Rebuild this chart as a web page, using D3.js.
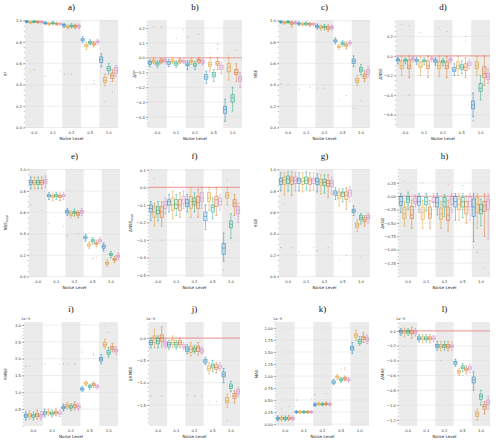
<!DOCTYPE html>
<html>
<head>
<meta charset="utf-8">
<script src="https://cdn.jsdelivr.net/npm/d3@7"></script>
<style>
  body { margin: 0; background: #fff; }
  svg { display: block; }
</style>
</head>
<body>
<div id="chart"></div>
<script>
const noiseLevels = ["0.0", "0.1", "0.2", "0.5", "1.0"];
const seriesColors = ["#0173b2", "#de8f05", "#029e73", "#d55e00", "#cc78bc"];

// box rows: [whiskerLow, q1, median, q3, whiskerHigh], noise level by noise level, 5 series each
// outliers: [noiseLevelIndex, seriesIndex, value]
const r2Boxes = [
    [0.98, 0.985, 0.99, 0.995, 1.0], [0.97, 0.978, 0.983, 0.988, 0.995], [0.98, 0.985, 0.99, 0.994, 1.0], [0.975, 0.98, 0.985, 0.99, 0.997], [0.975, 0.98, 0.985, 0.99, 0.997],
    [0.96, 0.97, 0.975, 0.98, 0.99], [0.955, 0.965, 0.97, 0.975, 0.985], [0.96, 0.97, 0.975, 0.98, 0.99], [0.955, 0.965, 0.97, 0.975, 0.985], [0.955, 0.965, 0.97, 0.975, 0.985],
    [0.935, 0.948, 0.955, 0.962, 0.975], [0.92, 0.933, 0.94, 0.947, 0.96], [0.93, 0.943, 0.95, 0.957, 0.97], [0.925, 0.938, 0.945, 0.952, 0.965], [0.925, 0.938, 0.945, 0.952, 0.965],
    [0.79, 0.81, 0.82, 0.83, 0.85], [0.73, 0.755, 0.765, 0.775, 0.795], [0.77, 0.787, 0.795, 0.805, 0.82], [0.755, 0.772, 0.78, 0.79, 0.805], [0.775, 0.792, 0.8, 0.81, 0.825],
    [0.57, 0.61, 0.635, 0.66, 0.69], [0.39, 0.42, 0.44, 0.47, 0.5], [0.5, 0.53, 0.55, 0.57, 0.6], [0.43, 0.46, 0.485, 0.51, 0.54], [0.48, 0.51, 0.535, 0.56, 0.58]
];
const r2Outliers = [[0, 1, 0.53], [0, 2, 0.54], [1, 0, 0.48], [1, 4, 0.53], [2, 0, 0.5], [2, 1, 0.5], [2, 2, 0.5], [3, 1, 0.37], [3, 3, 0.41], [3, 3, 0.44], [4, 1, 0.24], [4, 3, 0.33]];

const dR2Boxes = [
    [-0.06, -0.045, -0.035, -0.025, -0.015], [-0.04, -0.03, -0.022, -0.015, -0.005], [-0.065, -0.05, -0.04, -0.03, -0.02], [-0.04, -0.03, -0.022, -0.015, -0.005], [-0.035, -0.027, -0.02, -0.013, -0.005],
    [-0.06, -0.045, -0.035, -0.025, -0.012], [-0.04, -0.03, -0.022, -0.015, -0.005], [-0.065, -0.05, -0.04, -0.03, -0.018], [-0.04, -0.03, -0.022, -0.015, -0.005], [-0.04, -0.032, -0.025, -0.018, -0.008],
    [-0.08, -0.055, -0.045, -0.035, -0.02], [-0.045, -0.033, -0.025, -0.018, -0.005], [-0.08, -0.06, -0.05, -0.04, -0.025], [-0.04, -0.03, -0.02, -0.013, 0.0], [-0.05, -0.04, -0.03, -0.02, -0.008],
    [-0.175, -0.145, -0.13, -0.115, -0.09], [-0.09, -0.06, -0.045, -0.03, 0.0], [-0.16, -0.13, -0.115, -0.1, -0.08], [-0.08, -0.05, -0.04, -0.025, 0.0], [-0.11, -0.08, -0.065, -0.05, -0.03],
    [-0.43, -0.375, -0.35, -0.33, -0.28], [-0.15, -0.095, -0.065, -0.04, 0.0], [-0.36, -0.3, -0.27, -0.25, -0.2], [-0.16, -0.115, -0.1, -0.08, -0.04], [-0.2, -0.16, -0.145, -0.125, -0.1]
];
const dR2Outliers = [[0, 1, 0.21], [0, 3, 0.21], [1, 2, 0.13], [1, 4, 0.19], [2, 0, 0.14], [2, 3, 0.16], [3, 1, 0.03], [3, 3, 0.09], [3, 3, 0.06], [4, 1, 0.02], [4, 3, 0.05]];

const nseBoxes = [
    [0.975, 0.982, 0.987, 0.992, 0.998], [0.965, 0.975, 0.98, 0.985, 0.993], [0.975, 0.982, 0.987, 0.992, 0.998], [0.94, 0.965, 0.975, 0.985, 0.995], [0.965, 0.975, 0.98, 0.986, 0.994],
    [0.955, 0.965, 0.972, 0.978, 0.988], [0.95, 0.96, 0.966, 0.972, 0.982], [0.955, 0.965, 0.972, 0.978, 0.988], [0.945, 0.958, 0.965, 0.972, 0.982], [0.95, 0.96, 0.966, 0.972, 0.982],
    [0.92, 0.937, 0.945, 0.953, 0.968], [0.91, 0.927, 0.935, 0.943, 0.958], [0.915, 0.932, 0.94, 0.948, 0.962], [0.895, 0.918, 0.93, 0.942, 0.96], [0.91, 0.927, 0.935, 0.943, 0.958],
    [0.78, 0.8, 0.81, 0.82, 0.84], [0.73, 0.747, 0.755, 0.763, 0.78], [0.76, 0.777, 0.785, 0.793, 0.81], [0.735, 0.76, 0.77, 0.78, 0.8], [0.765, 0.782, 0.79, 0.798, 0.815],
    [0.57, 0.6, 0.62, 0.64, 0.67], [0.39, 0.42, 0.44, 0.46, 0.49], [0.49, 0.52, 0.54, 0.56, 0.59], [0.43, 0.46, 0.48, 0.5, 0.53], [0.47, 0.5, 0.52, 0.54, 0.57]
];
const nseOutliers = [[0, 0, 0.41], [0, 2, 0.4], [1, 0, 0.36], [1, 3, 0.38], [2, 0, 0.37], [2, 2, 0.37], [3, 1, 0.26], [3, 3, 0.3], [4, 0, 0.18], [4, 2, 0.25]];

const dNseBoxes = [
    [-0.08, -0.05, -0.04, -0.03, -0.015], [-0.2, -0.13, -0.1, -0.05, 0.0], [-0.08, -0.055, -0.045, -0.035, -0.02], [-0.22, -0.13, -0.1, -0.04, 0.0], [-0.06, -0.04, -0.03, -0.02, -0.008],
    [-0.085, -0.055, -0.045, -0.035, -0.015], [-0.2, -0.12, -0.1, -0.06, -0.01], [-0.09, -0.06, -0.05, -0.04, -0.02], [-0.22, -0.13, -0.1, -0.05, 0.0], [-0.06, -0.04, -0.03, -0.02, -0.008],
    [-0.095, -0.065, -0.05, -0.04, -0.02], [-0.21, -0.13, -0.1, -0.06, 0.0], [-0.1, -0.07, -0.055, -0.045, -0.025], [-0.22, -0.13, -0.1, -0.06, -0.005], [-0.07, -0.05, -0.04, -0.03, -0.01],
    [-0.2, -0.16, -0.14, -0.12, -0.08], [-0.2, -0.13, -0.1, -0.06, 0.0], [-0.18, -0.14, -0.115, -0.09, -0.05], [-0.22, -0.15, -0.115, -0.08, -0.02], [-0.13, -0.1, -0.08, -0.06, -0.03],
    [-0.62, -0.54, -0.5, -0.46, -0.38], [-0.2, -0.13, -0.1, -0.06, 0.0], [-0.45, -0.36, -0.33, -0.28, -0.2], [-0.3, -0.22, -0.18, -0.11, 0.0], [-0.28, -0.24, -0.21, -0.18, -0.13]
];
const dNseOutliers = [[0, 1, 0.32], [0, 3, 0.31], [0, 3, -0.4], [1, 1, 0.24], [2, 1, 0.28], [2, 3, 0.25], [3, 3, 0.2], [3, 3, 0.15], [4, 0, -0.66]];

const nseModBoxes = [
    [0.82, 0.86, 0.88, 0.9, 0.93], [0.82, 0.86, 0.88, 0.9, 0.93], [0.82, 0.86, 0.88, 0.9, 0.93], [0.82, 0.86, 0.88, 0.9, 0.93], [0.83, 0.87, 0.89, 0.91, 0.94],
    [0.72, 0.745, 0.755, 0.765, 0.785], [0.71, 0.74, 0.75, 0.76, 0.78], [0.72, 0.745, 0.755, 0.765, 0.785], [0.71, 0.74, 0.75, 0.76, 0.78], [0.72, 0.745, 0.755, 0.765, 0.785],
    [0.57, 0.593, 0.605, 0.617, 0.635], [0.55, 0.573, 0.585, 0.597, 0.615], [0.565, 0.59, 0.6, 0.61, 0.63], [0.55, 0.573, 0.585, 0.597, 0.615], [0.57, 0.593, 0.605, 0.617, 0.635],
    [0.33, 0.352, 0.365, 0.378, 0.395], [0.265, 0.285, 0.295, 0.305, 0.325], [0.305, 0.325, 0.335, 0.345, 0.365], [0.28, 0.3, 0.31, 0.32, 0.34], [0.305, 0.325, 0.335, 0.345, 0.365],
    [0.24, 0.265, 0.28, 0.295, 0.315], [0.095, 0.115, 0.125, 0.135, 0.155], [0.175, 0.195, 0.205, 0.215, 0.235], [0.13, 0.15, 0.16, 0.17, 0.19], [0.16, 0.18, 0.19, 0.2, 0.22]
];
const nseModOutliers = [[0, 0, 0.67], [0, 3, 0.62], [1, 0, 0.5], [1, 4, 0.47], [2, 0, 0.38], [2, 3, 0.4], [3, 2, 0.17], [3, 3, 0.18]];

const dNseModBoxes = [
    [-0.19, -0.14, -0.12, -0.1, -0.08], [-0.22, -0.17, -0.14, -0.11, -0.09], [-0.19, -0.15, -0.13, -0.11, -0.08], [-0.22, -0.17, -0.14, -0.11, -0.08], [-0.15, -0.12, -0.1, -0.08, -0.06],
    [-0.14, -0.1, -0.08, -0.07, -0.04], [-0.18, -0.13, -0.1, -0.06, -0.02], [-0.16, -0.12, -0.095, -0.07, -0.04], [-0.17, -0.13, -0.1, -0.07, -0.03], [-0.12, -0.09, -0.07, -0.05, -0.02],
    [-0.14, -0.11, -0.09, -0.07, -0.04], [-0.17, -0.12, -0.08, -0.05, 0.0], [-0.14, -0.1, -0.08, -0.06, -0.03], [-0.17, -0.12, -0.085, -0.05, -0.01], [-0.12, -0.08, -0.06, -0.03, 0.0],
    [-0.24, -0.19, -0.165, -0.14, -0.1], [-0.13, -0.08, -0.06, -0.03, 0.0], [-0.18, -0.14, -0.115, -0.1, -0.06], [-0.16, -0.11, -0.07, -0.05, 0.0], [-0.13, -0.1, -0.08, -0.06, -0.04],
    [-0.42, -0.38, -0.345, -0.32, -0.26], [-0.1, -0.06, -0.045, -0.03, 0.0], [-0.29, -0.23, -0.21, -0.19, -0.15], [-0.16, -0.11, -0.09, -0.07, -0.04], [-0.2, -0.15, -0.13, -0.11, -0.09]
];
const dNseModOutliers = [[0, 3, -0.3], [0, 1, 0.05], [1, 1, 0.03], [4, 0, -0.47], [4, 1, 0.04]];

const kgeBoxes = [
    [0.8, 0.86, 0.89, 0.92, 0.97], [0.76, 0.86, 0.9, 0.93, 0.97], [0.8, 0.87, 0.91, 0.94, 0.98], [0.76, 0.86, 0.9, 0.93, 0.98], [0.8, 0.87, 0.9, 0.93, 0.97],
    [0.8, 0.87, 0.9, 0.92, 0.97], [0.79, 0.86, 0.89, 0.92, 0.97], [0.81, 0.87, 0.9, 0.93, 0.98], [0.8, 0.86, 0.9, 0.92, 0.97], [0.81, 0.87, 0.9, 0.92, 0.97],
    [0.79, 0.86, 0.89, 0.92, 0.96], [0.77, 0.85, 0.88, 0.91, 0.95], [0.78, 0.85, 0.88, 0.91, 0.95], [0.74, 0.84, 0.87, 0.9, 0.95], [0.77, 0.84, 0.87, 0.9, 0.93],
    [0.72, 0.76, 0.78, 0.8, 0.83], [0.66, 0.73, 0.76, 0.79, 0.82], [0.7, 0.75, 0.78, 0.79, 0.82], [0.63, 0.72, 0.76, 0.79, 0.83], [0.7, 0.75, 0.78, 0.81, 0.84],
    [0.57, 0.6, 0.615, 0.63, 0.66], [0.42, 0.46, 0.48, 0.5, 0.53], [0.49, 0.53, 0.55, 0.57, 0.59], [0.47, 0.51, 0.53, 0.55, 0.57], [0.5, 0.54, 0.555, 0.57, 0.59]
];
const kgeOutliers = [[0, 0, 0.27], [0, 3, 0.27], [0, 1, 0.68], [1, 0, 0.23], [1, 4, 0.27], [2, 0, 0.24], [2, 3, 0.27], [3, 1, 0.15], [3, 3, 0.2], [4, 2, 0.18]];

const dKgeBoxes = [
    [-0.3, -0.17, -0.1, 0.0, 0.05], [-0.56, -0.42, -0.33, -0.2, -0.1], [-0.25, -0.12, -0.05, 0.0, 0.08], [-0.6, -0.42, -0.35, -0.19, -0.07], [-0.2, -0.13, -0.1, -0.03, 0.02],
    [-0.3, -0.17, -0.1, 0.0, 0.05], [-0.6, -0.43, -0.3, -0.2, -0.08], [-0.28, -0.16, -0.1, -0.02, 0.05], [-0.6, -0.41, -0.33, -0.2, -0.08], [-0.2, -0.12, -0.1, -0.02, 0.05],
    [-0.35, -0.2, -0.12, -0.02, 0.05], [-0.6, -0.43, -0.33, -0.22, -0.1], [-0.38, -0.2, -0.1, -0.02, 0.03], [-0.65, -0.45, -0.35, -0.2, -0.07], [-0.3, -0.15, -0.05, 0.0, 0.05],
    [-0.45, -0.2, -0.1, 0.0, 0.05], [-0.45, -0.25, -0.15, -0.05, 0.05], [-0.4, -0.2, -0.1, -0.02, 0.05], [-0.5, -0.33, -0.2, -0.1, 0.0], [-0.45, -0.2, -0.1, 0.0, 0.05],
    [-0.85, -0.38, -0.2, -0.05, 0.05], [-0.6, -0.3, -0.15, -0.03, 0.05], [-0.55, -0.33, -0.25, -0.15, -0.05], [-0.75, -0.28, -0.18, -0.1, 0.05], [-0.8, -0.25, -0.1, -0.05, 0.05]
];
const dKgeOutliers = [[0, 1, 0.28], [1, 1, 0.25], [2, 3, 0.22], [3, 2, 0.2], [3, 1, -1.0], [4, 1, -1.05], [4, 3, -1.35], [4, 4, -1.45], [4, 0, -0.95]];

// RMSE, MAE and their deltas are in units of 1e-5
const rmseBoxes = [
    [0.18, 0.25, 0.3, 0.35, 0.42], [0.2, 0.27, 0.32, 0.37, 0.45], [0.18, 0.25, 0.3, 0.34, 0.41], [0.2, 0.28, 0.33, 0.38, 0.47], [0.19, 0.26, 0.3, 0.35, 0.43],
    [0.27, 0.33, 0.38, 0.43, 0.5], [0.3, 0.36, 0.4, 0.44, 0.5], [0.27, 0.33, 0.37, 0.41, 0.47], [0.3, 0.36, 0.4, 0.44, 0.51], [0.28, 0.34, 0.38, 0.42, 0.48],
    [0.45, 0.51, 0.55, 0.59, 0.65], [0.5, 0.56, 0.6, 0.64, 0.7], [0.46, 0.52, 0.56, 0.6, 0.66], [0.48, 0.55, 0.6, 0.65, 0.72], [0.47, 0.53, 0.57, 0.61, 0.67],
    [1.03, 1.07, 1.1, 1.13, 1.18], [1.2, 1.24, 1.27, 1.29, 1.33], [1.09, 1.14, 1.17, 1.2, 1.24], [1.14, 1.2, 1.23, 1.26, 1.31], [1.09, 1.14, 1.17, 1.2, 1.24],
    [1.85, 1.93, 1.98, 2.04, 2.12], [2.3, 2.37, 2.42, 2.48, 2.58], [2.05, 2.13, 2.18, 2.25, 2.33], [2.2, 2.27, 2.32, 2.37, 2.45], [2.12, 2.2, 2.24, 2.28, 2.35]
];
const rmseOutliers = [[0, 0, 1.77], [0, 1, 1.79], [1, 0, 1.85], [1, 4, 1.82], [2, 0, 1.85], [2, 1, 1.85], [2, 3, 1.85], [3, 0, 2.2], [3, 3, 2.15], [3, 3, 2.1], [4, 1, 2.97], [4, 2, 2.78]];

const dRmseBoxes = [
    [-0.22, -0.15, -0.1, -0.05, 0.0], [-0.22, -0.1, 0.0, 0.05, 0.2], [-0.22, -0.13, -0.07, 0.0, 0.05], [-0.2, -0.08, 0.0, 0.07, 0.25], [-0.22, -0.17, -0.13, -0.08, -0.02],
    [-0.25, -0.2, -0.15, -0.1, -0.05], [-0.22, -0.15, -0.1, -0.04, 0.05], [-0.25, -0.2, -0.15, -0.1, -0.05], [-0.22, -0.15, -0.1, -0.05, 0.0], [-0.26, -0.22, -0.18, -0.14, -0.1],
    [-0.35, -0.3, -0.25, -0.2, -0.15], [-0.4, -0.32, -0.25, -0.18, -0.1], [-0.34, -0.3, -0.25, -0.22, -0.16], [-0.38, -0.3, -0.22, -0.18, -0.1], [-0.36, -0.32, -0.28, -0.24, -0.2],
    [-0.6, -0.56, -0.52, -0.48, -0.43], [-0.8, -0.72, -0.68, -0.62, -0.55], [-0.75, -0.67, -0.62, -0.58, -0.5], [-0.78, -0.7, -0.66, -0.6, -0.55], [-0.73, -0.68, -0.64, -0.6, -0.55],
    [-1.0, -0.87, -0.82, -0.76, -0.68], [-1.55, -1.45, -1.4, -1.33, -1.25], [-1.2, -1.13, -1.08, -1.03, -0.97], [-1.45, -1.35, -1.3, -1.24, -1.18], [-1.3, -1.25, -1.2, -1.15, -1.1]
];
const dRmseOutliers = [[0, 0, -1.3], [0, 3, -1.3], [2, 0, -1.28], [2, 2, -1.3], [2, 4, -1.3], [3, 1, -1.42], [3, 3, -1.42], [4, 1, -1.85]];

const maeBoxes = [
    [0.07, 0.1, 0.12, 0.14, 0.17], [0.07, 0.1, 0.12, 0.14, 0.17], [0.07, 0.1, 0.12, 0.14, 0.17], [0.08, 0.1, 0.125, 0.145, 0.18], [0.07, 0.1, 0.12, 0.14, 0.17],
    [0.22, 0.24, 0.25, 0.26, 0.28], [0.22, 0.24, 0.25, 0.26, 0.28], [0.22, 0.24, 0.25, 0.26, 0.28], [0.22, 0.24, 0.25, 0.26, 0.28], [0.22, 0.24, 0.25, 0.26, 0.28],
    [0.37, 0.39, 0.4, 0.42, 0.44], [0.39, 0.41, 0.42, 0.43, 0.46], [0.38, 0.4, 0.41, 0.42, 0.45], [0.39, 0.41, 0.42, 0.43, 0.46], [0.38, 0.4, 0.41, 0.42, 0.45],
    [0.82, 0.85, 0.87, 0.9, 0.93], [0.93, 0.96, 0.98, 1.0, 1.03], [0.87, 0.9, 0.92, 0.94, 0.97], [0.9, 0.93, 0.95, 0.97, 1.0], [0.87, 0.9, 0.92, 0.94, 0.97],
    [1.47, 1.54, 1.58, 1.62, 1.7], [1.74, 1.81, 1.85, 1.88, 1.95], [1.64, 1.68, 1.72, 1.76, 1.82], [1.7, 1.76, 1.8, 1.83, 1.9], [1.68, 1.73, 1.77, 1.8, 1.86]
];
const maeOutliers = [[0, 1, 0.32], [0, 3, 0.36], [1, 0, 0.5], [1, 4, 0.52], [2, 0, 0.62], [2, 3, 0.63], [3, 2, 1.15], [3, 3, 1.17], [3, 3, 1.13]];

const dMaeBoxes = [
    [-0.06, -0.03, -0.01, 0.01, 0.03], [-0.08, -0.03, -0.01, 0.01, 0.04], [-0.06, -0.03, -0.01, 0.01, 0.03], [-0.1, -0.04, -0.02, 0.01, 0.05], [-0.07, -0.04, -0.02, 0.0, 0.03],
    [-0.15, -0.12, -0.1, -0.08, -0.05], [-0.16, -0.12, -0.1, -0.08, -0.05], [-0.15, -0.12, -0.1, -0.08, -0.05], [-0.16, -0.12, -0.1, -0.08, -0.05], [-0.15, -0.12, -0.1, -0.08, -0.06],
    [-0.26, -0.22, -0.2, -0.18, -0.14], [-0.27, -0.23, -0.21, -0.18, -0.14], [-0.26, -0.22, -0.2, -0.18, -0.14], [-0.27, -0.23, -0.21, -0.18, -0.14], [-0.26, -0.22, -0.21, -0.19, -0.15],
    [-0.48, -0.45, -0.43, -0.41, -0.38], [-0.6, -0.57, -0.55, -0.53, -0.5], [-0.55, -0.51, -0.49, -0.47, -0.44], [-0.58, -0.54, -0.52, -0.5, -0.47], [-0.56, -0.52, -0.5, -0.48, -0.45],
    [-0.8, -0.7, -0.66, -0.62, -0.55], [-1.2, -1.15, -1.12, -1.09, -1.05], [-1.0, -0.92, -0.88, -0.85, -0.8], [-1.12, -1.06, -1.02, -0.99, -0.95], [-1.05, -0.99, -0.96, -0.93, -0.88]
];
const dMaeOutliers = [[0, 1, -0.21], [2, 1, -0.4], [3, 2, -0.6]];

// panel layout: plot area edges in px, y label position
const rowTop = [20, 169, 322];
const rowBottom = [128, 277, 426];

const panels = [
    { title: "a)", label: "R²", boxes: r2Boxes, outliers: r2Outliers, row: 0, left: 25, right: 118, labelX: 7, domain: [-0.004, 1.005], ticks: d3.range(0, 1.01, 0.2), step: 0.2, fmt: ".1f" },
    { title: "b)", label: "ΔR²", boxes: dR2Boxes, outliers: dR2Outliers, row: 0, left: 148, right: 242, labelX: 136, domain: [-0.475, 0.255], ticks: d3.range(-0.4, 0.21, 0.1), step: 0.1, fmt: ".1f", zeroLine: true },
    { title: "c)", label: "NSE", boxes: nseBoxes, outliers: nseOutliers, row: 0, left: 279, right: 370, labelX: 257, domain: [-0.004, 1.005], ticks: d3.range(0, 1.01, 0.2), step: 0.2, fmt: ".1f" },
    { title: "d)", label: "ΔNSE", boxes: dNseBoxes, outliers: dNseOutliers, row: 0, left: 396, right: 490, labelX: 382, domain: [-0.735, 0.367], ticks: d3.range(-0.6, 0.21, 0.2), step: 0.2, fmt: ".1f", zeroLine: true },
    { title: "e)", label: "NSE", sub: "mod", boxes: nseModBoxes, outliers: nseModOutliers, row: 1, left: 29, right: 120, labelX: 7, domain: [-0.004, 1.005], ticks: d3.range(0, 1.01, 0.2), step: 0.2, fmt: ".1f" },
    { title: "f)", label: "ΔNSE", sub: "mod", boxes: dNseModBoxes, outliers: dNseModOutliers, row: 1, left: 149, right: 240, labelX: 132, domain: [-0.51, 0.105], ticks: d3.range(-0.5, 0.11, 0.1), step: 0.1, fmt: ".1f", zeroLine: true },
    { title: "g)", label: "KGE", boxes: kgeBoxes, outliers: kgeOutliers, row: 1, left: 279, right: 370, labelX: 257, domain: [-0.004, 1.005], ticks: d3.range(0, 1.01, 0.2), step: 0.2, fmt: ".1f" },
    { title: "h)", label: "ΔKGE", boxes: dKgeBoxes, outliers: dKgeOutliers, row: 1, left: 399, right: 490, labelX: 384, domain: [-1.51, 0.51], ticks: d3.range(-1.25, 0.26, 0.25), step: 0.25, fmt: ".2f", zeroLine: true },
    { title: "i)", label: "RMSE", boxes: rmseBoxes, outliers: rmseOutliers, row: 2, left: 24, right: 118, labelX: 7, domain: [0.0, 3.09], ticks: d3.range(0.5, 3.01, 0.5), step: 0.5, fmt: ".1f", offset: "1e−5" },
    { title: "j)", label: "ΔRMSE", boxes: dRmseBoxes, outliers: dRmseOutliers, row: 2, left: 149, right: 240, labelX: 132, domain: [-1.97, 0.36], ticks: d3.range(-1.5, 0.01, 0.5), step: 0.5, fmt: ".1f", zeroLine: true, offset: "1e−5" },
    { title: "k)", label: "MAE", boxes: maeBoxes, outliers: maeOutliers, row: 2, left: 276, right: 369, labelX: 258, domain: [-0.04, 2.125], ticks: d3.range(0, 2.01, 0.25), step: 0.25, fmt: ".2f", offset: "1e−5" },
    { title: "l)", label: "ΔMAE", boxes: dMaeBoxes, outliers: dMaeOutliers, row: 2, left: 399, right: 490, labelX: 384, domain: [-1.28, 0.12], ticks: d3.range(-1.2, 0.01, 0.2), step: 0.2, fmt: ".1f", zeroLine: true, offset: "1e−5" }
];

const svg = d3.select("#chart").append("svg")
    .attr("width", 500)
    .attr("height", 443);

const sansFont = "DejaVu Sans, sans-serif";

panels.forEach(p => drawPanel(p));

function drawPanel(p) {
    const top = rowTop[p.row];
    const bottom = rowBottom[p.row];

    const x = d3.scaleBand().domain(noiseLevels).range([p.left, p.right]);
    const xInner = d3.scaleBand().domain(d3.range(seriesColors.length)).range([0, x.bandwidth()]);
    const y = d3.scaleLinear().domain(p.domain).range([bottom, top]);
    const boxW = xInner.bandwidth() * 0.88;

    const g = svg.append("g");

    // alternating shaded bands
    g.selectAll(".band")
        .data(noiseLevels.filter((_, i) => i % 2 === 0))
        .join("rect")
        .attr("class", "band")
        .attr("x", d => x(d))
        .attr("y", top)
        .attr("width", x.bandwidth())
        .attr("height", bottom - top)
        .attr("fill", "#ebebeb");

    // horizontal grid
    g.selectAll(".grid")
        .data(p.ticks)
        .join("line")
        .attr("class", "grid")
        .attr("x1", p.left)
        .attr("x2", p.right)
        .attr("y1", d => y(d))
        .attr("y2", d => y(d))
        .attr("stroke", "#dcdcdc")
        .attr("stroke-width", 0.5);

    if (p.zeroLine) {
        g.append("line")
            .attr("x1", p.left)
            .attr("x2", p.right)
            .attr("y1", y(0))
            .attr("y2", y(0))
            .attr("stroke", "#f08080")
            .attr("stroke-opacity", 0.65)
            .attr("stroke-width", 1.2);
    }

    // y axis: major + minor ticks (matplotlib style)
    const yAxis = d3.axisLeft(y)
        .tickValues(p.ticks)
        .tickFormat(d3.format(p.fmt))
        .tickSize(2.2)
        .tickPadding(1);
    const axisG = g.append("g")
        .attr("transform", `translate(${p.left},0)`)
        .call(yAxis);
    axisG.select(".domain").remove();
    axisG.selectAll(".tick line").attr("stroke", "#444").attr("stroke-width", 0.4);
    axisG.selectAll(".tick text")
        .attr("fill", "#333")
        .style("font-family", sansFont)
        .style("font-size", "3.7px");

    const mantissa = p.step / Math.pow(10, Math.floor(Math.log10(p.step)));
    const nDiv = [1, 5, 10].some(m => Math.abs(m - mantissa) < 1e-6) ? 5 : 4;
    const minorStep = p.step / nDiv;
    const minorTicks = [];
    for (let v = p.ticks[0] - p.step; v <= p.domain[1] + 1e-9; v += minorStep) {
        if (v >= p.domain[0] - 1e-9) minorTicks.push(v);
    }
    g.selectAll(".minor")
        .data(minorTicks)
        .join("line")
        .attr("class", "minor")
        .attr("x1", p.left - 1.2)
        .attr("x2", p.left)
        .attr("y1", d => y(d))
        .attr("y2", d => y(d))
        .attr("stroke", "#555")
        .attr("stroke-width", 0.35);

    // x axis labels
    const xAxis = d3.axisBottom(x).tickSize(0).tickPadding(3.5);
    const xG = g.append("g")
        .attr("transform", `translate(0,${bottom})`)
        .call(xAxis);
    xG.select(".domain").remove();
    xG.selectAll(".tick text")
        .attr("fill", "#333")
        .style("font-family", sansFont)
        .style("font-size", "3.7px");

    g.append("text")
        .attr("x", (p.left + p.right) / 2)
        .attr("y", bottom + 11.5)
        .attr("text-anchor", "middle")
        .style("font-family", sansFont)
        .style("font-size", "4.2px")
        .attr("fill", "#222")
        .text("Noise Level");

    // y label
    const yLabel = g.append("text")
        .attr("transform", `translate(${p.labelX},${(top + bottom) / 2}) rotate(-90)`)
        .attr("text-anchor", "middle")
        .style("font-family", sansFont)
        .style("font-size", "4.2px")
        .attr("fill", "#222");
    yLabel.append("tspan").text(p.label);
    if (p.sub) {
        yLabel.append("tspan")
            .attr("dy", 1)
            .style("font-size", "3px")
            .text(p.sub);
    }

    if (p.offset) {
        g.append("text")
            .attr("x", p.left - 3)
            .attr("y", top - 2)
            .style("font-family", sansFont)
            .style("font-size", "3.4px")
            .attr("fill", "#333")
            .text(p.offset);
    }

    // title
    svg.append("text")
        .attr("x", (p.left + p.right) / 2)
        .attr("y", top - 10)
        .attr("text-anchor", "middle")
        .style("font-family", "Liberation Serif, serif")
        .style("font-size", "9px")
        .attr("fill", "#111")
        .text(p.title);

    // boxes
    const boxData = p.boxes.map((b, i) => ({
        level: noiseLevels[Math.floor(i / seriesColors.length)],
        series: i % seriesColors.length,
        lo: b[0], q1: b[1], med: b[2], q3: b[3], hi: b[4]
    }));
    const cx = d => x(d.level) + xInner(d.series) + xInner.bandwidth() / 2;

    const box = g.selectAll(".box")
        .data(boxData)
        .join("g")
        .attr("class", "box")
        .attr("stroke", d => seriesColors[d.series])
        .attr("stroke-opacity", 0.7)
        .attr("stroke-width", 0.6);

    box.append("line")
        .attr("x1", cx).attr("x2", cx)
        .attr("y1", d => y(d.lo)).attr("y2", d => y(d.q1));
    box.append("line")
        .attr("x1", cx).attr("x2", cx)
        .attr("y1", d => y(d.q3)).attr("y2", d => y(d.hi));
    box.selectAll(".cap")
        .data(d => [d.lo, d.hi].map(v => ({ v, d })))
        .join("line")
        .attr("class", "cap")
        .attr("x1", e => cx(e.d) - boxW * 0.3)
        .attr("x2", e => cx(e.d) + boxW * 0.3)
        .attr("y1", e => y(e.v))
        .attr("y2", e => y(e.v));
    box.append("rect")
        .attr("x", d => cx(d) - boxW / 2)
        .attr("width", boxW)
        .attr("y", d => y(d.q3))
        .attr("height", d => Math.max(0.6, y(d.q1) - y(d.q3)))
        .attr("fill", d => seriesColors[d.series])
        .attr("fill-opacity", 0.16);
    box.append("line")
        .attr("x1", d => cx(d) - boxW / 2)
        .attr("x2", d => cx(d) + boxW / 2)
        .attr("y1", d => y(d.med))
        .attr("y2", d => y(d.med));

    // outlier points
    g.selectAll(".outlier")
        .data(p.outliers)
        .join("circle")
        .attr("class", "outlier")
        .attr("cx", d => x(noiseLevels[d[0]]) + xInner(d[1]) + xInner.bandwidth() / 2)
        .attr("cy", d => y(d[2]))
        .attr("r", 0.55)
        .attr("fill", d => seriesColors[d[1]])
        .attr("fill-opacity", 0.5);
}
</script>
</body>
</html>
